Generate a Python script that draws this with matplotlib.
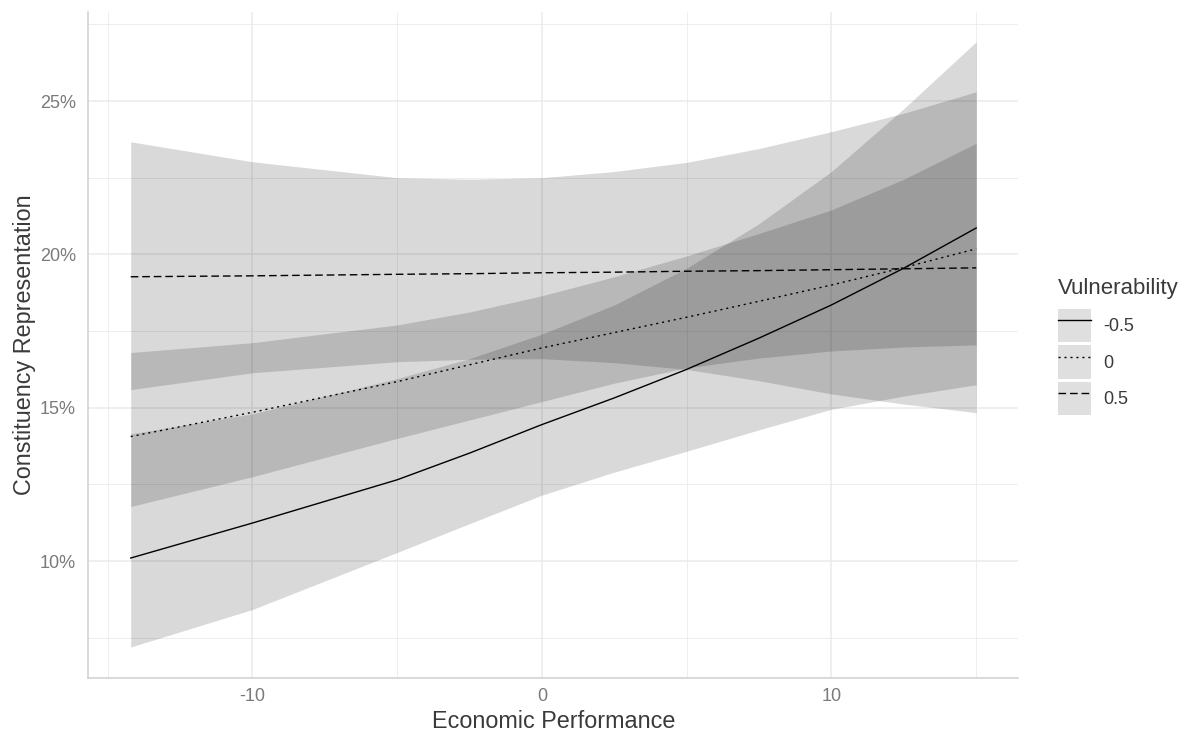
import matplotlib
matplotlib.use("Agg")
import matplotlib.pyplot as plt
from matplotlib.lines import Line2D
from matplotlib.patches import Patch
from matplotlib.ticker import FuncFormatter, MultipleLocator

plt.rcParams['font.family'] = ['Liberation Sans', 'DejaVu Sans']

# economic performance values where the predictions were read
econ = [-14.2, -10, -5, -2.5, 0, 2.5, 5, 7.5, 10, 12.5, 15]

# predicted constituency representation (%) per vulnerability level
fit_neg = [10.1, 11.24, 12.65, 13.52, 14.45, 15.32, 16.25, 17.27, 18.35, 19.55, 20.86]
low_neg = [7.2, 8.42, 10.28, 11.22, 12.15, 12.9, 13.58, 14.28, 14.95, 15.38, 15.75]
upp_neg = [14.15, 14.8, 15.95, 16.6, 17.4, 18.35, 19.55, 21.0, 22.7, 24.75, 26.93]

fit_zero = [14.06, 14.85, 15.85, 16.4, 16.95, 17.45, 17.95, 18.47, 19.0, 19.57, 20.18]
low_zero = [11.78, 12.75, 14.0, 14.6, 15.2, 15.8, 16.3, 16.62, 16.85, 16.98, 17.05]
upp_zero = [16.8, 17.12, 17.7, 18.12, 18.65, 19.27, 19.95, 20.68, 21.45, 22.45, 23.62]

fit_pos = [19.27, 19.3, 19.35, 19.37, 19.4, 19.42, 19.45, 19.47, 19.5, 19.53, 19.56]
low_pos = [15.59, 16.14, 16.5, 16.58, 16.6, 16.47, 16.25, 15.88, 15.45, 15.12, 14.84]
upp_pos = [23.67, 23.02, 22.5, 22.45, 22.5, 22.7, 23.0, 23.45, 24.0, 24.6, 25.3]

levels = ['-0.5', '0', '0.5']
styles = ['-', (0, (1.5, 2.8)), (0, (5.5, 2.8))]

fits = [fit_neg, fit_zero, fit_pos]
lows = [low_neg, low_zero, low_pos]
upps = [upp_neg, upp_zero, upp_pos]

fig = plt.figure(figsize=(11.87, 7.35), dpi=100)
ax = fig.add_axes([0.0745, 0.0776, 0.7835, 0.906])

for lo, up in zip(lows, upps):
    ax.fill_between(econ, lo, up, color='black', alpha=0.15, linewidth=0)
for fit, ls in zip(fits, styles):
    ax.plot(econ, fit, color='black', linestyle=ls, linewidth=1.0)

ax.set_xlim(-15.66, 16.46)
ax.set_ylim(6.19, 27.9)

ax.xaxis.set_major_locator(MultipleLocator(10))
ax.xaxis.set_minor_locator(MultipleLocator(5))
ax.yaxis.set_major_locator(MultipleLocator(5))
ax.yaxis.set_minor_locator(MultipleLocator(2.5))
ax.yaxis.set_major_formatter(FuncFormatter(lambda v, p: f'{v:.0f}%'))
ax.xaxis.set_major_formatter(FuncFormatter(lambda v, p: f'{v:.0f}'))

ax.grid(which='major', color='#ebebeb', linewidth=1.1)
ax.grid(which='minor', color='#ebebeb', linewidth=0.6)
ax.set_axisbelow(True)
ax.tick_params(which='both', length=0, labelsize=13, labelcolor='#7a7a7a')
ax.tick_params(axis='x', pad=7)
ax.tick_params(axis='y', pad=9)

for side in ['top', 'right']:
    ax.spines[side].set_visible(False)
for side in ['left', 'bottom']:
    ax.spines[side].set_color('#cfcfcf')
    ax.spines[side].set_linewidth(1.1)

ax.set_xlabel('Economic Performance', fontsize=16.8, color='#3a3a3a', labelpad=4)
ax.set_ylabel('Constituency Representation', fontsize=16.8, color='#3a3a3a', labelpad=3)

handles = []
for ls in styles:
    handles.append((Patch(facecolor='#dfdfdf', edgecolor='none'),
                    Line2D([], [], color='black', linestyle=ls, linewidth=1.0)))
leg = fig.legend(handles, levels, title='Vulnerability', loc='upper left',
                 bbox_to_anchor=(0.8913, 0.6214), frameon=False,
                 fontsize=13, title_fontsize=16, handlelength=1.83,
                 handleheight=2.44, labelspacing=0.19, handletextpad=0.65,
                 borderaxespad=0, borderpad=0)
leg._legend_box.align = 'left'
leg._legend_box.sep = 7
for t in leg.get_texts():
    t.set_color('#3a3a3a')
leg.get_title().set_color('#3a3a3a')

fig.savefig('out.png', dpi=100)
